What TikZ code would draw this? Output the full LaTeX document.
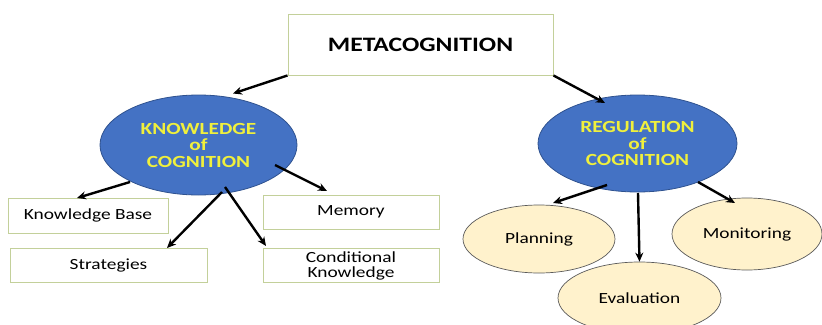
\documentclass[tikz,border=0pt]{standalone}
\usepackage{fontspec}
\setmainfont[FakeStretch=1.25]{Carlito}
\usetikzlibrary{arrows.meta,shapes.geometric}
\definecolor{boxline}{HTML}{C3D09A}
\definecolor{blueF}{HTML}{4472C4}
\definecolor{blueD}{HTML}{2F528F}
\definecolor{yel}{HTML}{F0F03C}
\definecolor{cream}{HTML}{FFF2CC}
\definecolor{creamD}{HTML}{5A5A5A}
\tikzset{
  rbox/.style={draw=boxline, line width=0.9pt, fill=white, inner sep=0pt, font=\fontsize{15.5}{16}\selectfont, align=center},
  bigell/.style={ellipse, draw=blueD, line width=0.8pt, fill=blueF, inner sep=0pt, text=yel, font=\bfseries\fontsize{17}{16.5}\selectfont, align=center},
  smell/.style={ellipse, draw=creamD, line width=0.7pt, fill=cream, inner sep=0pt, font=\fontsize{15.5}{17}\selectfont},
  arr/.style={-{Stealth[length=9pt,width=8pt]}, line width=2.4pt, black}
}
\begin{document}
\begin{tikzpicture}[x=1pt,y=-1pt]
\useasboundingbox (0,0) rectangle (822,324);
\clip (0,0) rectangle (822,324);
\node[rbox, minimum width=265pt, minimum height=61pt, font=\bfseries\fontsize{20.5}{22}\selectfont] (meta) at (420.5,44.5) {METACOGNITION};
\node[bigell, minimum width=197pt, minimum height=100pt] (know) at (198.5,145) {KNOWLEDGE\\of\\COGNITION};
\node[bigell, minimum width=199pt, minimum height=97pt] (reg) at (637.5,143.5) {REGULATION\\of\\COGNITION};
\node[rbox, minimum width=160pt, minimum height=35pt] (kb) at (88,215.5) {Knowledge Base};
\node[rbox, minimum width=197pt, minimum height=34pt] (str) at (108.5,265) {Strategies};
\node[rbox, minimum width=176pt, minimum height=34pt] (mem) at (351,212) {Memory};
\node[rbox, minimum width=176pt, minimum height=34pt, font=\fontsize{15.5}{15}\selectfont] (cond) at (351,265.5) {Conditional\\Knowledge};
\node[smell, minimum width=152pt, minimum height=68pt] (plan) at (539,239) {Planning};
\node[smell, minimum width=150pt, minimum height=72pt] (mon) at (747,234) {Monitoring};
\node[smell, minimum width=163pt, minimum height=72pt] (eval) at (639.5,298) {Evaluation};

\coordinate (k1) at (130,182);
\coordinate (k2) at (275,165);
\coordinate (k3) at (222,192);
\coordinate (k4) at (225,187);
\coordinate (r1) at (607,185);
\coordinate (r3) at (698,182);
\draw[arr] (meta.south west) -- (233,93.5);
\draw[arr] (meta.south east) -- (605,103);
\draw[arr] (k1) -- (77,198);
\draw[arr] (k2) -- (327,191);
\draw[arr] (k3) -- (167,248);
\draw[arr] (k4) -- (266,246);
\draw[arr] (r1) -- (553,203);
\draw[arr] (638,193) -- (eval.north);
\draw[arr] (r3) -- (735,203);
\end{tikzpicture}
\end{document}
